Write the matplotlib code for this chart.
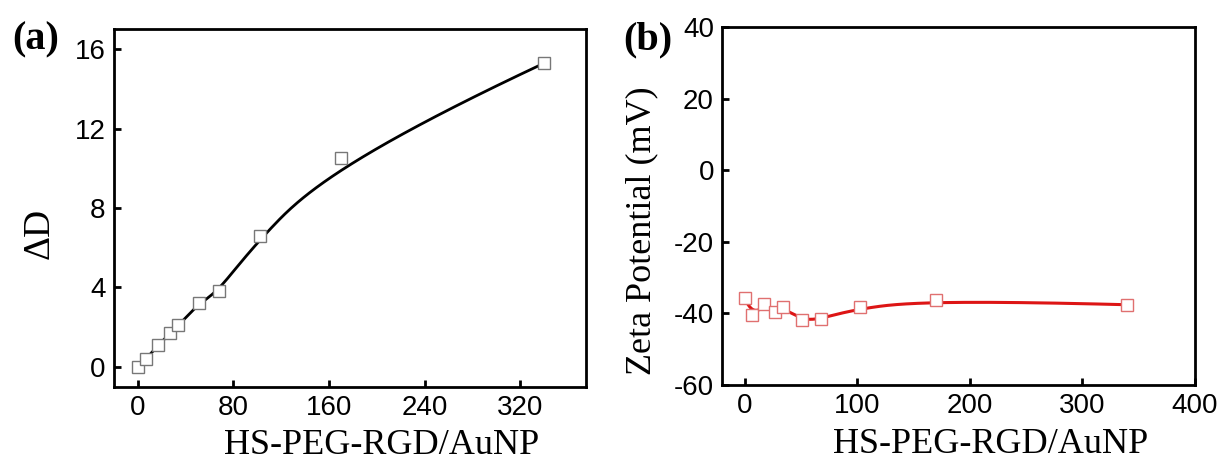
import numpy as np
import matplotlib
matplotlib.use("Agg")
from matplotlib import pyplot as plt

# HS-PEG-RGD / AuNP ratio
ratio = [0, 6.8, 17, 27.2, 34, 51, 68, 102, 170, 340]
# (a) change in diameter
delta_d = [0, 0.4, 1.1, 1.7, 2.1, 3.2, 3.8, 6.6, 10.5, 15.3]
# (b) zeta potential (mV)
zeta = [-35.8, -40.6, -37.4, -39.5, -38.3, -42.0, -41.6, -38.3, -36.2, -37.6]

a_xticks = [0, 80, 160, 240, 320]
a_yticks = [0, 4, 8, 12, 16]
b_xticks = [0, 100, 200, 300, 400]
b_yticks = [-60, -40, -20, 0, 20, 40]
xlabel = "HS-PEG-RGD/AuNP"


def bspline(px, py, k=3, num=500):
    # clamped uniform B-spline using the data points as control points
    px = np.asarray(px, float)
    py = np.asarray(py, float)
    n = len(px)
    t = np.concatenate([np.zeros(k), np.linspace(0, 1, n - k + 1), np.ones(k)])
    u = np.linspace(0, 1, num)
    N = np.zeros((num, len(t) - 1))
    for i in range(len(t) - 1):
        N[:, i] = (t[i] <= u) & (u < t[i + 1])
    N[-1, :] = 0
    N[-1, n - 1] = 1
    for d in range(1, k + 1):
        Nn = np.zeros((num, len(t) - 1 - d))
        for i in range(len(t) - 1 - d):
            a = 0
            b = 0
            den1 = t[i + d] - t[i]
            if den1 > 0:
                a = (u - t[i]) / den1 * N[:, i]
            den2 = t[i + d + 1] - t[i + 1]
            if den2 > 0:
                b = (t[i + d + 1] - u) / den2 * N[:, i + 1]
            Nn[:, i] = a + b
        N = Nn
    return N @ px, N @ py


serif = "Liberation Serif"
plt.rcParams["font.family"] = "Liberation Sans"
plt.rcParams["font.size"] = 20
plt.rcParams["axes.unicode_minus"] = False

fig = plt.figure(figsize=(12.2, 4.66), dpi=100)
ax1 = fig.add_axes([0.0934, 0.170, 0.387, 0.767])
ax2 = fig.add_axes([0.592, 0.174, 0.3875, 0.768])

for ax in (ax1, ax2):
    for s in ax.spines.values():
        s.set_linewidth(2.0)
    ax.tick_params(direction="in", length=5, width=2.0, pad=6,
                   top=False, right=False)

# (a)
cx, cy = bspline(ratio, delta_d)
ax1.plot(cx, cy, color="black", lw=2.0, zorder=2)
ax1.plot(ratio, delta_d, ls="none", marker="s", ms=8.5, mfc="white",
         mec="#777777", mew=1.0, zorder=3)
ax1.set_xlim(-20, 375)
ax1.set_ylim(-1, 17)
ax1.set_xticks(a_xticks)
ax1.set_yticks(a_yticks)
ax1.set_xlabel(xlabel, family=serif, fontsize=26, labelpad=6)
ax1.xaxis.label.set_x(0.566)
ax1.set_ylabel("ΔD", family=serif, fontsize=27)
ax1.yaxis.set_label_coords(-0.122, 0.43)

# (b)
cx, cy = bspline(ratio, zeta)
ax2.plot(cx, cy, color="#dd1515", lw=2.2, zorder=2)
ax2.plot(ratio, zeta, ls="none", marker="s", ms=8.5, mfc="white",
         mec="#e07070", mew=1.0, zorder=3)
ax2.set_xlim(-20, 400)
ax2.set_ylim(-60, 40)
ax2.set_xticks(b_xticks)
ax2.set_yticks(b_yticks)
ax2.set_xlabel(xlabel, family=serif, fontsize=26, labelpad=6)
ax2.xaxis.label.set_x(0.567)
ax2.set_ylabel("Zeta Potential (mV)", family=serif, fontsize=26)
ax2.yaxis.set_label_coords(-0.135, 0.43)

fig.text(36 / 1220, 1 - 40 / 466, "(a)", family=serif, fontweight="bold",
         fontsize=29, ha="center", va="center")
fig.text(648 / 1220, 1 - 40 / 466, "(b)", family=serif, fontweight="bold",
         fontsize=29, ha="center", va="center")

fig.savefig("out.png", dpi=100)
